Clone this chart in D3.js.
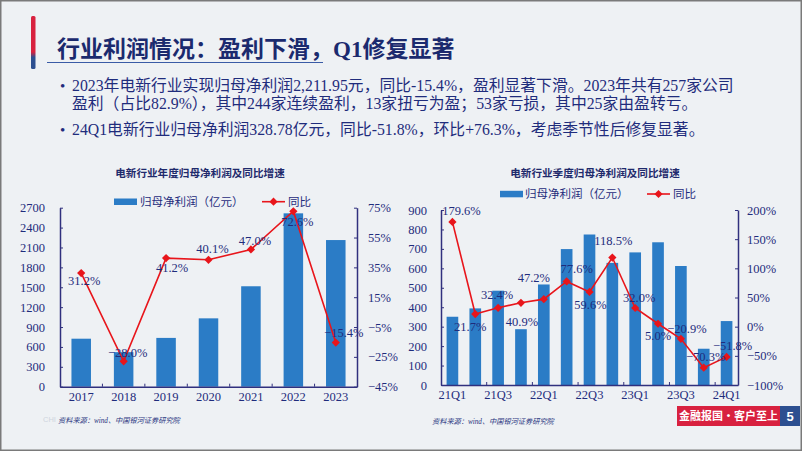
<!DOCTYPE html>
<html><head><meta charset="utf-8">
<script src="https://cdn.jsdelivr.net/npm/d3@7"></script>
<style>body{margin:0;background:#eef1f4;} svg{display:block}</style>
</head><body><svg id="c" width="802" height="451"></svg>
<script>
// ---------- data ----------
const years = ["2017","2018","2019","2020","2021","2022","2023"];
const annualProfit = [724, 521, 736, 1031, 1515, 2615, 2212];
const annualYoY = [31.2, -28.0, 41.2, 40.1, 47.0, 72.6, -15.4];
const annualLeftTicks = [0, 300, 600, 900, 1200, 1500, 1800, 2100, 2400, 2700];
const annualRightTicks = [-45, -25, -5, 15, 35, 55, 75];

const quarters = ["21Q1","21Q2","21Q3","21Q4","22Q1","22Q2","22Q3","22Q4","23Q1","23Q2","23Q3","23Q4","24Q1"];
const quarterProfit = [351, 394, 485, 287, 517, 699, 774, 628, 682, 734, 612, 186.5, 328.78];
const quarterYoY = [179.6, 21.7, 32.4, 40.9, 47.2, 77.6, 59.6, 118.5, 32.0, 5.0, -20.9, -70.3, -51.8];
const quarterLeftTicks = [0, 100, 200, 300, 400, 500, 600, 700, 800, 900];
const quarterRightTicks = [-100, -50, 0, 50, 100, 150, 200];
const quarterShownLabels = ["21Q1","21Q3","22Q1","22Q3","23Q1","23Q3","24Q1"];

const legendBar = "归母净利润（亿元）";
const legendLine = "同比";

// label placement (layout only): offset of label centre from its point
const annualLabelDx = [3, 4, 6, 4, 4, 4, 8];
const annualLabelDy = [8, -9, 10, -11, -9, 10, -10];
const quarterLabelDx = [9, -5, -1, 1, -10, 10, 1, 1, 4, 0, 6, 2, 6];
const quarterLabelDy = [-11, 13, -13, 19, -21, -13, 13, -17, -10, 12, -10, -11, -11];

// ---------- page ----------
const svg = d3.select("#c");
const NAVY = "#1f2c7c", AXIS = "#30307e", BAR = "#2b7cc6", RED = "#e8151b";
const serif = "'Liberation Serif','Noto Sans CJK SC',serif";
const cjk = "'Noto Sans CJK SC',sans-serif";

svg.append("rect").attr("x",0).attr("y",0).attr("width",802).attr("height",451).attr("fill","#eef1f4");

const defs = svg.append("defs");
const g1 = defs.append("linearGradient").attr("id","barGrad").attr("x1",0).attr("y1",0).attr("x2",0).attr("y2",1);
g1.append("stop").attr("offset","0%").attr("stop-color","#d8223f");
g1.append("stop").attr("offset","68%").attr("stop-color","#d8223f");
g1.append("stop").attr("offset","78%").attr("stop-color","#2c4f90");
g1.append("stop").attr("offset","100%").attr("stop-color","#2c4f90");
svg.append("rect").attr("x",31).attr("y",16).attr("width",4.5).attr("height",53).attr("rx",1.5).attr("fill","url(#barGrad)");

svg.append("text").attr("x",57).attr("y",57)
  .attr("font-family",serif).attr("font-size",23).attr("font-weight",600).attr("fill","#1b2a6e")
  .text("行业利润情况：盈利下滑，Q1修复显著");
svg.append("line").attr("x1",47).attr("x2",323).attr("y1",62.5).attr("y2",62.5).attr("stroke","#3a5ba6").attr("stroke-width",1);

const bullets = [
  {b:true, y:91, t:"2023年电新行业实现归母净利润2,211.95元，同比-15.4%，盈利显著下滑。2023年共有257家公司"},
  {b:false, y:109, t:"盈利（占比82.9%），其中244家连续盈利，13家扭亏为盈；53家亏损，其中25家由盈转亏。"},
  {b:true, y:135, t:"24Q1电新行业归母净利润328.78亿元，同比-51.8%，环比+76.3%，考虑季节性后修复显著。"}
];
bullets.forEach(d=>{
  if(d.b) svg.append("text").attr("x",60).attr("y",d.y).attr("font-family",serif).attr("font-size",15).attr("fill",NAVY).text("•");
  svg.append("text").attr("x",72).attr("y",d.y).attr("font-family",serif).attr("font-size",15.8).attr("fill",NAVY).text(d.t);
});

// ---------- chart builder ----------
function drawChart(o){
  const g = svg.append("g");
  const x = d3.scaleBand().domain(o.cats).range([o.x0, o.x1]).padding(0);
  const yL = d3.scaleLinear().domain([o.leftTicks[0], o.leftTicks[o.leftTicks.length-1]]).range([o.yb, o.yt]);
  const yR = d3.scaleLinear().domain([o.rightTicks[0], o.rightTicks[o.rightTicks.length-1]]).range([o.yb, o.yt]);
  const cx = c => x(c) + x.bandwidth()/2;
  const bw = x.bandwidth()*o.barFrac;

  // title
  g.append("text").attr("x",o.titleX).attr("y",o.titleY).attr("text-anchor","middle")
    .attr("font-family",cjk).attr("font-weight",700).attr("font-size",10.6).attr("fill","#1f2a6c").text(o.title);

  // legend
  const L = o.legend;
  g.append("rect").attr("x",L.rx).attr("y",L.y-3.2).attr("width",23).attr("height",6.5).attr("fill",BAR);
  g.append("text").attr("x",L.tx).attr("y",L.y+4).attr("font-family",cjk).attr("font-size",11.5).attr("fill",NAVY).text(legendBar);
  g.append("line").attr("x1",L.lx).attr("x2",L.lx+23).attr("y1",L.y).attr("y2",L.y).attr("stroke",RED).attr("stroke-width",1.6);
  g.append("path").attr("d",d3.symbol(d3.symbolSquare,34)()).attr("fill",RED)
    .attr("transform",`translate(${L.lx+11.5},${L.y}) rotate(45)`);
  g.append("text").attr("x",L.lx+26).attr("y",L.y+4).attr("font-family",cjk).attr("font-size",11.5).attr("fill",NAVY).text(legendLine);

  // bars
  g.selectAll("rect.bar").data(o.cats).join("rect").attr("class","bar")
    .attr("x",c=>cx(c)-bw/2).attr("width",bw)
    .attr("y",(c,i)=>yL(o.bars[i])).attr("height",(c,i)=>yL(0)-yL(o.bars[i]))
    .attr("fill",BAR);

  // axes
  const axL = g.append("g").attr("transform",`translate(${o.x0},0)`)
    .call(d3.axisLeft(yL).tickValues(o.leftTicks).tickFormat(d3.format("d")).tickSize(-3).tickSizeOuter(0).tickPadding(o.lPad));
  const axR = g.append("g").attr("transform",`translate(${o.x1},0)`)
    .call(d3.axisRight(yR).tickValues(o.rightTicks).tickFormat(d=>d3.format("d")(d)+"%").tickSize(-3).tickSizeOuter(0).tickPadding(o.rPad));
  const axB = g.append("g").attr("transform",`translate(0,${o.yb})`)
    .call(d3.axisBottom(x).tickValues(o.shown).tickSize(0).tickPadding(o.bPad));
  [axL,axR,axB].forEach(a=>{
    a.selectAll("path.domain").attr("stroke",AXIS).attr("stroke-width",1.5);
    a.selectAll(".tick line").attr("stroke",AXIS).attr("stroke-width",1);
    a.selectAll(".tick text").attr("font-family",serif).attr("font-size",12.5).attr("fill",NAVY);
  });
  // category boundary ticks
  const bounds = o.cats.map((c,i)=>i).filter(i=>i>0 && i%o.tickEvery===0);
  g.selectAll("line.bt").data(bounds).join("line").attr("class","bt")
    .attr("x1",i=>x(o.cats[i])).attr("x2",i=>x(o.cats[i]))
    .attr("y1",o.yb).attr("y2",o.yb-3).attr("stroke",AXIS).attr("stroke-width",1);

  // line + markers
  const line = d3.line().x((v,i)=>cx(o.cats[i])).y(v=>yR(v));
  g.append("path").attr("d",line(o.yoy)).attr("fill","none").attr("stroke",RED).attr("stroke-width",1.6);
  g.selectAll("path.mk").data(o.yoy).join("path").attr("class","mk")
    .attr("d",d3.symbol(d3.symbolSquare,34)()).attr("fill",RED)
    .attr("transform",(v,i)=>`translate(${cx(o.cats[i])},${yR(v)}) rotate(45)`);

  // data labels
  g.selectAll("text.lbl").data(o.yoy).join("text").attr("class","lbl")
    .attr("x",(v,i)=>cx(o.cats[i])+o.dx[i]).attr("y",(v,i)=>yR(v)+o.dy[i]+4.3)
    .attr("text-anchor","middle").attr("font-family",serif).attr("font-size",12.5).attr("fill",NAVY)
    .text(v=>d3.format(".1f")(v)+"%");

  // source
  g.append("text").attr("x",o.srcX).attr("y",o.srcY).attr("font-family",serif).attr("font-style","italic")
    .attr("font-size",7.2).attr("fill","#27337e").text("资料来源：wind、中国银河证券研究院");
}

svg.append("text").attr("x",43).attr("y",422).attr("font-family","'Liberation Sans',sans-serif").attr("font-size",7.5)
  .attr("fill","#cfd5de").text("CHI");

drawChart({
  cats: years, bars: annualProfit, yoy: annualYoY, shown: years,
  leftTicks: annualLeftTicks, rightTicks: annualRightTicks,
  x0: 60, x1: 357, yt: 207.7, yb: 386.7, barFrac: 0.46, tickEvery: 1,
  lPad: 15, rPad: 11, bPad: 5.5,
  title: "电新行业年度归母净利润及同比增速", titleX: 200, titleY: 177,
  legend: {rx: 114, tx: 140, lx: 262, y: 201.7},
  dx: annualLabelDx, dy: annualLabelDy, srcX: 58, srcY: 423
});

drawChart({
  cats: quarters, bars: quarterProfit, yoy: quarterYoY, shown: quarterShownLabels,
  leftTicks: quarterLeftTicks, rightTicks: quarterRightTicks,
  x0: 441, x1: 738, yt: 210, yb: 385, barFrac: 0.51, tickEvery: 2,
  lPad: 14, rPad: 9, bPad: 5,
  title: "电新行业季度归母净利润及同比增速", titleX: 595, titleY: 177,
  legend: {rx: 500, tx: 525, lx: 647, y: 194},
  dx: quarterLabelDx, dy: quarterLabelDy, srcX: 432, srcY: 424
});

// footer badge
svg.append("rect").attr("x",677).attr("y",406).attr("width",103).attr("height",20).attr("fill","#d8213f");
svg.append("rect").attr("x",780).attr("y",406).attr("width",20).attr("height",20).attr("fill","#2c4f90");
svg.append("text").attr("x",728.5).attr("y",420).attr("text-anchor","middle").attr("font-family",cjk).attr("font-weight",700)
  .attr("font-size",11).attr("fill","#fff").text("金融报国·客户至上");
svg.append("text").attr("x",790).attr("y",421).attr("text-anchor","middle").attr("font-family","'Liberation Sans',sans-serif").attr("font-weight",700)
  .attr("font-size",13).attr("fill","#fff").text("5");

// frame
svg.append("rect").attr("x",0.75).attr("y",0.75).attr("width",800.5).attr("height",449.5).attr("fill","none").attr("stroke","#7a7a7a").attr("stroke-width",1.5);
</script></body></html>
